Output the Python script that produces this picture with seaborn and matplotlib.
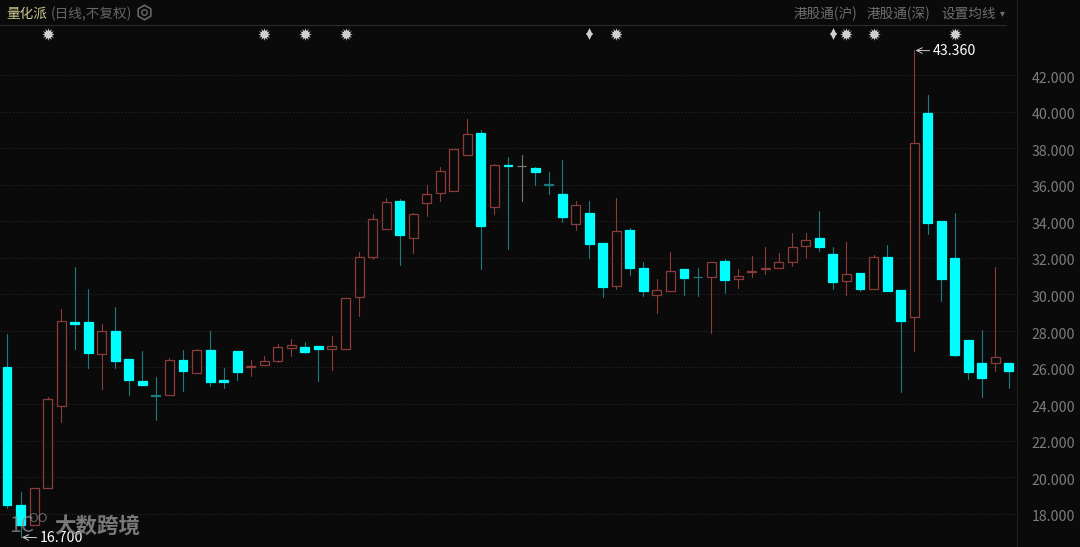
import numpy as np
import pandas as pd
import seaborn as sns
import matplotlib.pyplot as plt
from matplotlib.transforms import ScaledTranslation

# daily candles
opens = [26.01, 18.49, 17.38, 19.38, 23.87, 28.51, 28.51, 26.76, 27.98, 26.49, 25.27, 24.50, 24.48, 26.39, 25.72,
         26.95, 25.32, 26.89, 26.01, 26.15, 26.37, 27.06, 27.10, 27.16, 27.00, 27.02, 29.84, 32.07, 33.57, 35.10,
         33.09, 34.99, 35.57, 35.68, 37.62, 38.82, 34.77, 37.09, 37.02, 36.91, 36.03, 35.50, 33.84, 34.48, 32.84,
         30.48, 33.51, 31.45, 29.99, 30.21, 31.39, 30.97, 30.94, 31.85, 30.83, 31.21, 31.38, 31.43, 31.78, 32.64,
         33.09, 32.23, 30.72, 31.19, 30.32, 32.05, 30.23, 28.78, 39.96, 34.04, 32.00, 27.52, 26.23, 26.23, 26.26]
closes = [18.49, 17.38, 19.38, 24.29, 28.53, 28.38, 26.78, 27.98, 26.36, 25.29, 25.06, 24.46, 26.39, 25.82, 26.95,
          25.19, 25.19, 25.74, 26.07, 26.37, 27.14, 27.21, 26.85, 26.99, 27.20, 29.83, 32.03, 34.11, 35.04, 33.26,
          34.39, 35.52, 36.78, 37.98, 38.81, 33.73, 37.07, 37.02, 37.02, 36.72, 35.99, 34.22, 34.88, 32.78, 30.43,
          33.46, 31.47, 30.19, 30.23, 31.27, 30.92, 30.94, 31.78, 30.79, 31.01, 31.28, 31.47, 31.76, 32.58, 33.00,
          32.60, 30.70, 31.14, 30.30, 32.03, 30.21, 28.53, 38.28, 33.93, 30.83, 26.68, 25.73, 25.41, 26.60, 25.81]
highs = [27.83, 19.19, 19.38, 24.39, 29.20, 31.49, 30.31, 28.36, 29.32, 26.49, 26.89, 25.46, 26.53, 26.97, 27.02,
         27.98, 25.95, 26.89, 26.39, 26.62, 27.29, 27.54, 27.42, 27.16, 27.70, 29.83, 32.31, 34.41, 35.26, 35.21,
         34.48, 35.98, 36.96, 37.98, 39.61, 38.99, 37.14, 37.51, 37.64, 37.00, 36.70, 37.36, 35.12, 35.12, 32.84,
         35.26, 33.62, 31.78, 30.86, 32.31, 31.39, 31.45, 31.78, 31.96, 31.38, 32.11, 32.58, 32.25, 33.38, 33.35,
         34.55, 32.58, 32.89, 31.19, 32.18, 32.71, 30.23, 43.36, 40.94, 34.04, 34.44, 27.52, 28.04, 31.49, 26.26]
lows = [18.33, 16.70, 17.38, 19.38, 23.01, 27.02, 25.99, 24.81, 25.99, 24.50, 25.06, 23.15, 24.48, 24.73, 25.72,
        24.96, 24.85, 25.34, 25.55, 26.11, 26.32, 26.64, 26.81, 25.25, 25.88, 27.02, 28.84, 31.96, 33.57, 31.61,
        32.29, 34.30, 35.14, 35.68, 37.62, 31.41, 34.41, 32.51, 35.10, 35.99, 35.50, 33.99, 33.53, 32.00, 29.88,
        30.30, 31.08, 29.90, 28.99, 30.21, 29.99, 29.90, 27.87, 30.08, 30.35, 30.94, 31.10, 31.43, 31.56, 32.00,
        32.40, 30.32, 29.99, 30.17, 30.32, 30.17, 24.68, 26.90, 33.29, 29.66, 26.63, 25.37, 24.41, 25.78, 24.89]

price_ticks = [18, 20, 22, 24, 26, 28, 30, 32, 34, 36, 38, 40, 42]
star_days = [3, 19, 22, 25, 45, 62, 64, 70]
split_days = [43, 61]

BG = '#0a0a0a'
CYAN = '#00ffff'
RED = '#8c3b3b'
TEAL = '#1d7b80'
GRAY = '#777777'

sns.set_theme(style='dark', rc={'axes.facecolor': BG, 'figure.facecolor': BG})
plt.rcParams['font.family'] = ['Noto Sans CJK SC', 'DejaVu Sans']

df = pd.DataFrame({'day': range(len(opens)), 'open': opens, 'close': closes, 'high': highs, 'low': lows})
df['kind'] = np.where(df['close'] > df['open'], 'up', np.where(df['close'] < df['open'], 'down', 'flat'))
df['top'] = df[['open', 'close']].max(axis=1)
df['bottom'] = df[['open', 'close']].min(axis=1)

fig, ax = plt.subplots(figsize=(10.8, 5.47), dpi=100)
ax.set_position([0, 0, 1, 1])

# wicks
wicks = df.melt(id_vars=['day', 'kind'], value_vars=['high', 'low'], value_name='price')
sns.lineplot(data=wicks, x='day', y='price', units='day', estimator=None, hue='kind',
             palette={'up': RED, 'down': TEAL, 'flat': GRAY}, linewidth=0.8, legend=False, ax=ax, zorder=2)

# bodies, the very thin falling ones only show as a dim dash
df.loc[(df['kind'] == 'down') & (df['top'] - df['bottom'] < 0.05), 'kind'] = 'doji'
for kind, face, edge in [('up', BG, RED), ('down', CYAN, CYAN), ('doji', TEAL, TEAL), ('flat', GRAY, GRAY)]:
    d = df[df['kind'] == kind]
    ax.bar(d['day'], d['top'] - d['bottom'], bottom=d['bottom'], width=0.66, color=face, edgecolor=edge,
           linewidth=0.9, zorder=3)

ax.set_xlim(-7 / 13.54, (1080 - 7) / 13.54)
ax.set_ylim(16.17, 46.12)
ax.set_xlabel('')
ax.set_ylabel('')
ax.set_xticks([])
ax.set_yticks(price_ticks)
ax.set_yticklabels(['%.3f' % p for p in price_ticks])
ax.tick_params(axis='y', length=0, left=False, right=False, labelleft=False, labelright=True, pad=-3.6,
               labelsize=10.2, labelcolor='#7c7c7c')
# right side labels sit a little under their grid line
shift = ScaledTranslation(0, -1.5 / 72, fig.dpi_scale_trans)
for tick in ax.yaxis.get_major_ticks():
    tick.label2.set_ha('right')
    tick.label2.set_transform(tick.label2.get_transform() + shift)
for s in ax.spines.values():
    s.set_visible(False)

# price grid stops just past the divider
ax.hlines(price_ticks, 0, 1020 / 1080, transform=ax.get_yaxis_transform(), color='#2e2e2e', linewidth=0.7,
          linestyle=(0, (1, 2.2)), zorder=1)
ax.axvline((1016.5 - 7) / 13.54, color='#1f1f1f', linewidth=0.8, zorder=1)
ax.hlines(44.75, 0, 1006 / 1080, transform=ax.get_yaxis_transform(), color='#2a2a2a', linewidth=0.8, zorder=1)

# event markers above the candles
ax.scatter(star_days, [44.28] * len(star_days), marker=(12, 1, 0), s=85, color='#cfcfcf', linewidth=0, zorder=4)
ax.scatter(star_days, [44.28] * len(star_days), marker='o', s=32, color='#cfcfcf', linewidth=0, zorder=4)
ax.scatter(split_days, [44.43] * len(split_days), marker='^', s=24, color='#cfcfcf', linewidth=0, zorder=4)
ax.scatter(split_days, [44.13] * len(split_days), marker='v', s=24, color='#cfcfcf', linewidth=0, zorder=4)

# high / low call-outs
ax.annotate('43.360', xy=(67, 43.36), xytext=(926 / 13.54, 43.32), color='white', fontsize=10.2,
            va='center', arrowprops=dict(arrowstyle='->', color='#cccccc', lw=0.7, shrinkA=0, shrinkB=1), zorder=5)
ax.annotate('16.700', xy=(1, 16.70), xytext=(33 / 13.54, 16.66), color='white', fontsize=10.2,
            va='center', arrowprops=dict(arrowstyle='->', color='#cccccc', lw=0.7, shrinkA=0, shrinkB=1), zorder=5)


def px(x, y):
    return x / 1080, 1 - y / 547


# header
fig.text(*px(6, 18), '量化派', color='#c6c78f', fontsize=9.8)
fig.text(*px(51, 18), '(日线,不复权)', color='#666666', fontsize=9.8)
gear = fig.add_axes([136 / 1080, 1 - 21 / 547, 17 / 1080, 17 / 547])
gear.axis('off')
gear.set_xlim(-1, 1)
gear.set_ylim(-1, 1)
gear.scatter([0], [0], marker='h', s=110, facecolor='none', edgecolor='#666666', linewidth=1.2)
gear.scatter([0], [0], marker='o', s=16, facecolor='none', edgecolor='#666666', linewidth=1.0)
fig.text(*px(794, 18), '港股通(沪)', color='#6e6e6e', fontsize=9.8)
fig.text(*px(867, 18), '港股通(深)', color='#6e6e6e', fontsize=9.8)
fig.text(*px(941, 17), '设置均线', color='#6e6e6e', fontsize=9.8)
fig.text(*px(1002, 13), '▾', color='#6e6e6e', fontsize=7, va='center', ha='center')

# watermark
fig.text(*px(54, 527), '大数跨境', color='#8c8c8c', alpha=0.85, fontsize=15.5, fontweight='bold', va='center')
fig.text(*px(9, 526), '1C', color='#8c8c8c', alpha=0.75, fontsize=15, va='center')
fig.text(*px(28, 518), 'OO', color='#8c8c8c', alpha=0.7, fontsize=9.5, va='center')

fig.savefig('out.png', dpi=100, facecolor=BG)
